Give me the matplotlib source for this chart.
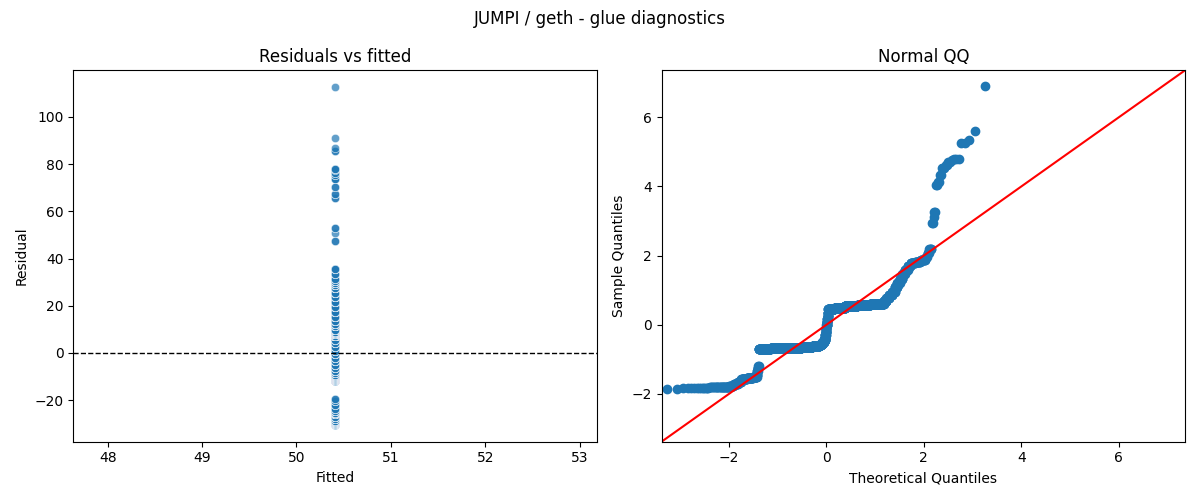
import matplotlib
matplotlib.use("Agg")
import matplotlib.pyplot as plt
import seaborn as sns
import numpy as np
from statistics import NormalDist

# residual levels and how many runs sit at each level
resid_levels = [
    -30.5, -30.2, -29.8, -29.4,
    -28.9, -28.0, -27.0,
    -25.8, -25.3, -24.8,
    -23.8, -22.0, -20.6, -19.6,
    -11.8, -11.4, -11.0, -10.6, -10.2,
    -9.8, -9.2, -8.5, -7.6,
    -6.5, -5.0, -3.5, -2.0, -0.5, 1.0, 2.5, 4.0, 5.5,
    7.2, 7.8, 8.4, 9.0, 9.7,
    11.2, 12.3, 13.7, 15.3,
    17.5, 19.5, 21.5, 23.5, 25.5, 27.5,
    28.7, 29.5, 30.3,
    31.5, 33.5, 35.5,
    47.6, 50.8, 53.1, 65.6, 67.2, 70.5, 73.6, 75.3, 76.3, 77.6, 77.9, 78.1,
    85.6, 86.8, 91.2, 112.6,
]
resid_counts = [
    2, 12, 14, 13,
    10, 11, 10,
    20, 25, 20,
    3, 3, 3, 2,
    80, 150, 170, 150, 95,
    25, 25, 20, 15,
    6, 6, 6, 6, 6, 6, 5, 5, 5,
    90, 150, 160, 140, 117,
    18, 18, 18, 17,
    12, 12, 12, 11, 11, 10,
    14, 13, 11,
    3, 3, 4,
    2, 1, 2, 2, 2, 2, 3, 2, 2, 1, 2, 1,
    2, 1, 1, 1,
]
fitted_value = 50.41

title = "JUMPI / geth - glue diagnostics"

resid = np.repeat(np.array(resid_levels), resid_counts)
fitted = np.full(resid.size, fitted_value)

# normal QQ: standardised residuals vs i/(n+1) normal quantiles
n = resid.size
sample_q = np.sort((resid - resid.mean()) / resid.std())
nd = NormalDist()
theo_q = np.array([nd.inv_cdf(i / (n + 1)) for i in range(1, n + 1)])

fig, (ax1, ax2) = plt.subplots(1, 2, figsize=(12, 5))

sns.scatterplot(x=fitted, y=resid, alpha=0.7, ax=ax1)
ax1.axhline(0, color="black", linestyle="--", linewidth=1)
ax1.set_title("Residuals vs fitted")
ax1.set_xlabel("Fitted")
ax1.set_ylabel("Residual")

ax2.plot(theo_q, sample_q, "o", color="C0")
hi = sample_q.max() + 0.05 * (sample_q.max() - sample_q.min())
lo = theo_q.min() - 0.12
ax2.plot([lo, hi], [lo, hi], "r-")
ax2.set_xlim(lo, hi)
ax2.set_ylim(lo, hi)
ax2.set_title("Normal QQ")
ax2.set_xlabel("Theoretical Quantiles")
ax2.set_ylabel("Sample Quantiles")

fig.suptitle(title)
plt.tight_layout()
plt.savefig("out.png", dpi=100)
